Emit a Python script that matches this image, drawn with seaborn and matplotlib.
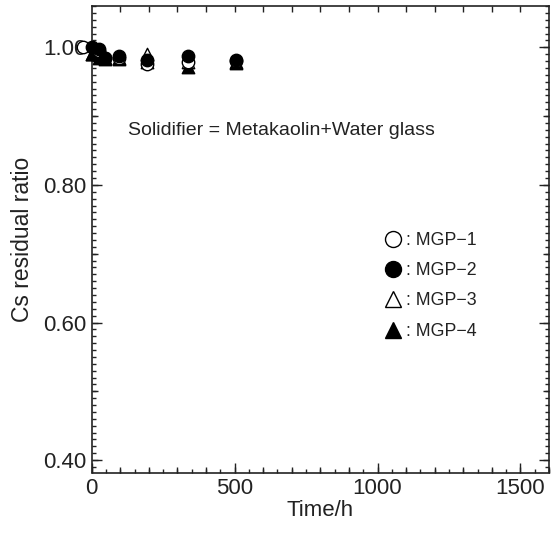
import numpy as np
import pandas as pd
import matplotlib
matplotlib.use("Agg")
import matplotlib.pyplot as plt
from matplotlib.lines import Line2D
from matplotlib.ticker import MultipleLocator
import seaborn as sns

# ---- data ----
time_1 = [-30, 24, 48, 96, 192, 336, 504]
time_h = [0, 24, 48, 96, 192, 336, 504]
mgp1 = [1.000, 0.995, 0.985, 0.985, 0.975, 0.978, 0.980]
mgp2 = [1.000, 0.998, 0.985, 0.987, 0.982, 0.987, 0.982]
mgp3 = [0.990, 0.990, 0.985, 0.985, 0.990, 0.978, 0.978]
mgp4 = [0.990, 0.985, 0.983, 0.983, 0.978, 0.972, 0.977]
labels = [": MGP\u22121", ": MGP\u22122", ": MGP\u22123", ": MGP\u22124"]
annot = "Solidifier = Metakaolin+Water glass"

sns.set_style("white")
plt.rcParams['font.family'] = ['Liberation Sans', 'DejaVu Sans']

FS = 16
FS2 = 14
FS3 = 12.8
TC = '#222222'
L, R, T, B = 91.7, 549.0, 6.0, 472.5
fig = plt.figure(figsize=(5.56, 5.33), dpi=100)
ax = fig.add_axes([L/556, 1-B/533, (R-L)/556, (B-T)/533])

S = 80
kw = dict(edgecolor='black', linewidth=1.0, clip_on=False, legend=False)
sns.scatterplot(x=time_h, y=mgp3, marker='^', s=S, facecolor='white', ax=ax, zorder=3, **kw)
sns.scatterplot(x=time_h, y=mgp4, marker='^', s=S, facecolor='black', ax=ax, zorder=4, **kw)
sns.scatterplot(x=time_1, y=mgp1, marker='o', s=S, facecolor='white', ax=ax, zorder=5, **kw)
sns.scatterplot(x=time_h, y=mgp2, marker='o', s=S, facecolor='black', ax=ax, zorder=6, **kw)

ax.set_xlim(0, 1600)
ax.set_ylim(0.382, 1.06)
ax.set_xticks([0, 500, 1000, 1500])
ax.set_yticks([0.40, 0.60, 0.80, 1.00])
ax.set_yticklabels(["0.40", "0.60", "0.80", "1.00"])
ax.xaxis.set_minor_locator(MultipleLocator(50))
ax.yaxis.set_minor_locator(MultipleLocator(0.01))
ax.tick_params(which='both', direction='in', bottom=True, left=True, top=False, right=True,
               color=TC, width=1.0)
ax.tick_params(which='major', length=7, labelsize=FS, pad=4, labelcolor=TC)
ax.tick_params(which='minor', length=3)
for sp in ax.spines.values():
    sp.set_linewidth(1.2)
    sp.set_color(TC)

# mid-level ticks
sec_b = ax.secondary_xaxis('bottom')
sec_b.set_xticks(np.arange(0, 1601, 100))
sec_b.tick_params(direction='in', length=4.5, width=1.0, labelbottom=False, color=TC)
sec_b.spines['bottom'].set_visible(False)
sec_t = ax.secondary_xaxis('top')
sec_t.set_xticks(np.arange(100, 1600, 100))
sec_t.tick_params(direction='in', length=4, width=1.0, labeltop=False, color=TC)
sec_t.spines['top'].set_visible(False)
for side in ['left', 'right']:
    sec = ax.secondary_yaxis(side)
    sec.set_yticks(np.arange(0.4, 1.06, 0.1))
    sec.tick_params(direction='in', length=4.5, width=1.0, labelleft=False, labelright=False, color=TC)
    sec.spines[side].set_visible(False)

ax.set_xlabel("Time/h", fontsize=FS, color=TC, labelpad=1)
ax.set_ylabel("Cs residual ratio", fontsize=16.5, color=TC, labelpad=6)

ax.text(0.414, 0.734, annot, transform=ax.transAxes, fontsize=FS2, ha='center', va='center', color=TC)

handles = [
    Line2D([], [], marker='o', linestyle='none', markersize=11.5, markerfacecolor='white', markeredgecolor='black', markeredgewidth=1.0),
    Line2D([], [], marker='o', linestyle='none', markersize=11.5, markerfacecolor='black', markeredgecolor='black'),
    Line2D([], [], marker='^', linestyle='none', markersize=11.5, markerfacecolor='white', markeredgecolor='black', markeredgewidth=1.0),
    Line2D([], [], marker='^', linestyle='none', markersize=11.5, markerfacecolor='black', markeredgecolor='black'),
]
leg = ax.legend(handles, labels, loc='upper left', bbox_to_anchor=(0.643, 0.516), frameon=False,
                fontsize=FS3, handlelength=0.8, handletextpad=0.35, labelspacing=0.75,
                borderpad=0, borderaxespad=0)
for t in leg.get_texts():
    t.set_color(TC)

fig.savefig("out.png", dpi=100)
